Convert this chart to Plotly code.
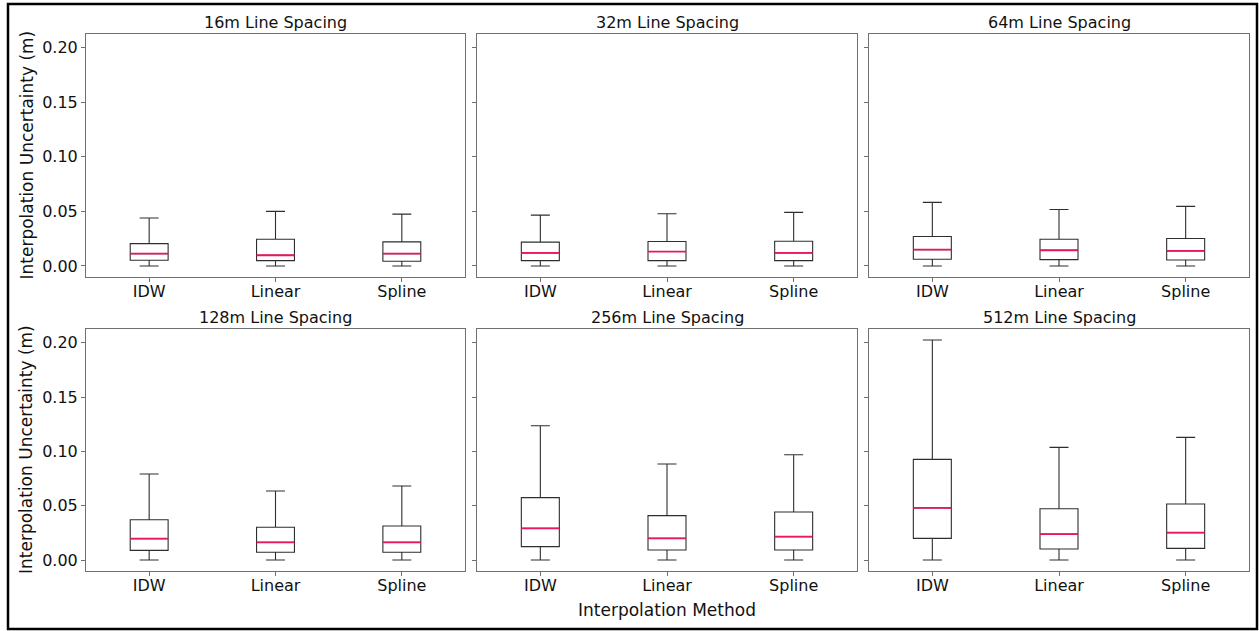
import plotly.graph_objects as go
from plotly.subplots import make_subplots

# Interpolation methods compared in every panel
methods = ["IDW", "Linear", "Spline"]

# Survey line spacings, one panel each
spacings = ["16m", "32m", "64m", "128m", "256m", "512m"]

# Box statistics (m) per spacing, in method order IDW, Linear, Spline
lower_whisker = {
    "16m": [0.0, 0.0, 0.0],
    "32m": [0.0, 0.0, 0.0],
    "64m": [0.0, 0.0, 0.0],
    "128m": [0.0, 0.0, 0.0],
    "256m": [0.0, 0.0, 0.0],
    "512m": [0.0, 0.0, 0.0],
}
q1 = {
    "16m": [0.0052, 0.0049, 0.0043],
    "32m": [0.0049, 0.0049, 0.0049],
    "64m": [0.0061, 0.0058, 0.0055],
    "128m": [0.0089, 0.0071, 0.0071],
    "256m": [0.0123, 0.0092, 0.0092],
    "512m": [0.0199, 0.0101, 0.0107],
}
median = {
    "16m": [0.0113, 0.0098, 0.0113],
    "32m": [0.0120, 0.0132, 0.0120],
    "64m": [0.0150, 0.0144, 0.0138],
    "128m": [0.0196, 0.0163, 0.0163],
    "256m": [0.0291, 0.0199, 0.0215],
    "512m": [0.0479, 0.0239, 0.0252],
}
q3 = {
    "16m": [0.0205, 0.0245, 0.0221],
    "32m": [0.0218, 0.0224, 0.0227],
    "64m": [0.0270, 0.0245, 0.0251],
    "128m": [0.0371, 0.0301, 0.0313],
    "256m": [0.0574, 0.0408, 0.0442],
    "512m": [0.0926, 0.0472, 0.0515],
}
upper_whisker = {
    "16m": [0.0439, 0.0500, 0.0475],
    "32m": [0.0466, 0.0478, 0.0491],
    "64m": [0.0583, 0.0518, 0.0546],
    "128m": [0.0791, 0.0635, 0.0681],
    "256m": [0.1236, 0.0883, 0.0969],
    "512m": [0.2025, 0.1037, 0.1129],
}

y_ticks = [0.00, 0.05, 0.10, 0.15, 0.20]

W, H = 1259, 631
FONT = "DejaVu Sans"
BOX_W = 0.3
BOX_LINE = "#2e2e2e"
MEDIAN_COLOR = "#e8185c"
FRAME = "#707070"

fig = make_subplots(rows=2, cols=3)

# Panel extents in pixels
col_px = [(86, 465), (477, 857), (869, 1249)]
row_px = [(34, 277), (329, 571)]

ymax = max(max(v) for v in upper_whisker.values())
ymin = min(min(v) for v in lower_whisker.values())
pad = 0.05 * (ymax - ymin)
yrange = [ymin - pad, ymax + pad]

xpos = list(range(len(methods)))

for k, sp in enumerate(spacings):
    r, c = divmod(k, 3)
    fig.add_trace(
        go.Box(
            x=xpos,
            q1=q1[sp], median=median[sp], q3=q3[sp],
            lowerfence=lower_whisker[sp], upperfence=upper_whisker[sp],
            width=BOX_W, whiskerwidth=0.5,
            fillcolor="rgba(0,0,0,0)",
            line=dict(color=BOX_LINE, width=1.1),
            boxpoints=False, showlegend=False, hoverinfo="skip",
        ),
        row=r + 1, col=c + 1,
    )
    # median bars drawn over each box
    mx, my = [], []
    for i, m in enumerate(median[sp]):
        mx += [xpos[i] - BOX_W / 2, xpos[i] + BOX_W / 2, None]
        my += [m, m, None]
    fig.add_trace(
        go.Scatter(x=mx, y=my, mode="lines",
                   line=dict(color=MEDIAN_COLOR, width=1.8),
                   showlegend=False, hoverinfo="skip"),
        row=r + 1, col=c + 1,
    )

    idx = "" if k == 0 else str(k + 1)
    x0, x1 = col_px[c]
    y0, y1 = row_px[r]
    fig.layout["xaxis" + idx].update(
        domain=[x0 / W, x1 / W],
        range=[-0.5, 2.5],
        tickmode="array", tickvals=xpos, ticktext=methods,
        ticks="outside", ticklen=4, tickcolor=FRAME,
        ticklabelstandoff=-4,
        showgrid=False, zeroline=False,
        showline=True, mirror=True, linecolor=FRAME, linewidth=1,
        tickfont=dict(family=FONT, size=16, color="#111"),
    )
    fig.layout["yaxis" + idx].update(
        domain=[1 - y1 / H, 1 - y0 / H],
        range=yrange,
        tickmode="array", tickvals=y_ticks, tickformat=".2f",
        ticks="outside", ticklen=4, tickcolor=FRAME,
        showticklabels=(c == 0),
        showgrid=False, zeroline=False,
        showline=True, mirror=True, linecolor=FRAME, linewidth=1,
        tickfont=dict(family=FONT, size=16, color="#111"),
    )
    fig.add_annotation(
        text=f"{sp} Line Spacing", xref="paper", yref="paper",
        x=(x0 + x1) / 2 / W, y=1 - (y0 - 11.5) / H,
        xanchor="center", yanchor="middle", showarrow=False,
        font=dict(family=FONT, size=16, color="#111"),
    )

# Shared axis labels
for y0, y1 in row_px:
    fig.add_annotation(
        text="Interpolation Uncertainty (m)", xref="paper", yref="paper",
        x=26 / W, y=1 - (y0 + y1) / 2 / H, textangle=-90,
        xanchor="center", yanchor="middle", showarrow=False,
        font=dict(family=FONT, size=17, color="#111"),
    )
fig.add_annotation(
    text="Interpolation Method", xref="paper", yref="paper",
    x=(col_px[1][0] + col_px[1][1]) / 2 / W, y=1 - 610 / H,
    xanchor="center", yanchor="middle", showarrow=False,
    font=dict(family=FONT, size=17, color="#111"),
)

# Outer frame around the whole figure
fig.add_shape(
    type="rect", xref="paper", yref="paper",
    x0=8 / W, x1=1257 / W, y0=1 - 629 / H, y1=1 - 4 / H,
    line=dict(color="black", width=2.5), fillcolor="rgba(0,0,0,0)",
)

fig.update_layout(
    width=W, height=H,
    margin=dict(l=0, r=0, t=0, b=0),
    paper_bgcolor="white", plot_bgcolor="white",
    font=dict(family=FONT, color="#111"),
)

fig.write_html("out.html")
